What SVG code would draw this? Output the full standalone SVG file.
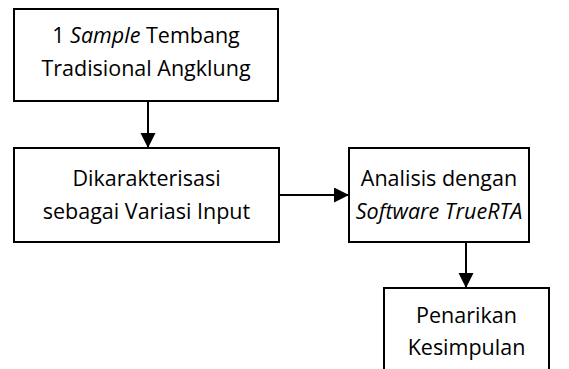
<svg xmlns="http://www.w3.org/2000/svg" width="569" height="369" viewBox="0 0 569 369">
<style>
.box{fill:#fff;stroke:#000;stroke-width:2}
.t{font-family:"Open Sans","Liberation Sans",sans-serif;font-size:21.5px;fill:#000;text-anchor:middle}
.i{font-style:italic}
.c{stroke:#000;stroke-width:2;fill:none}
</style>
<defs>
<marker id="ah" markerUnits="userSpaceOnUse" markerWidth="16" markerHeight="16" refX="15" refY="7.5" orient="auto">
<path d="M0,0 L15,7.5 L0,15 Z" fill="#000"/>
</marker>
</defs>
<rect width="569" height="369" fill="#fff"/>
<g id="n1">
<rect class="box" x="14" y="9" width="264" height="92"/>
<text class="t" x="146" y="43">1 <tspan class="i">Sample</tspan> Tembang</text>
<text class="t" x="146" y="76">Tradisional Angklung</text>
</g>
<g id="n2">
<rect class="box" x="14" y="148" width="265" height="94"/>
<text class="t" x="146.5" y="186">Dikarakterisasi</text>
<text class="t" x="146.5" y="219">sebagai Variasi Input</text>
</g>
<g id="n3">
<rect class="box" x="349" y="148" width="180" height="94"/>
<text class="t" x="439" y="186">Analisis dengan</text>
<text class="t i" x="439" y="219">Software TrueRTA</text>
</g>
<g id="n4">
<rect class="box" x="384" y="288" width="165" height="82"/>
<text class="t" x="466.5" y="323">Penarikan</text>
<text class="t" x="466.5" y="355">Kesimpulan</text>
</g>
<g id="connectors">
<line class="c" x1="148" y1="101" x2="148" y2="148" marker-end="url(#ah)"/>
<line class="c" x1="279" y1="195" x2="349" y2="195" marker-end="url(#ah)"/>
<line class="c" x1="466" y1="242" x2="466" y2="288" marker-end="url(#ah)"/>
</g>
</svg>
